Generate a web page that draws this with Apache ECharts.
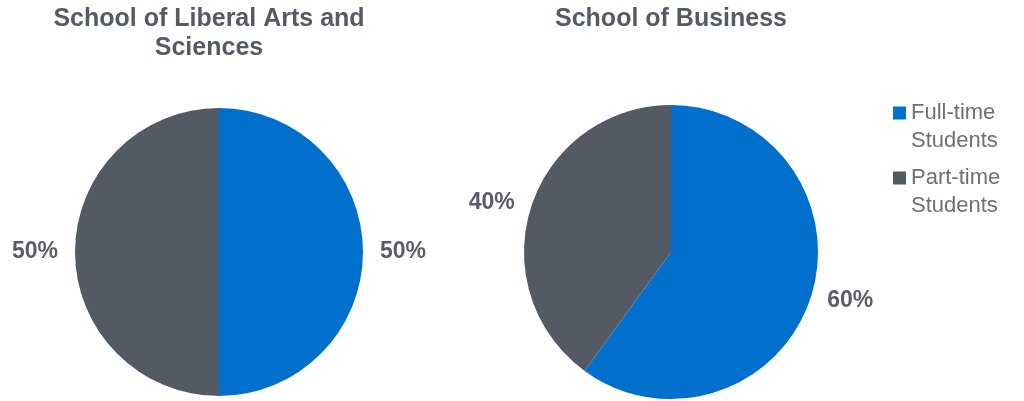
<!DOCTYPE html>
<html><head><meta charset="utf-8">
<script src="https://cdn.jsdelivr.net/npm/echarts@6/dist/echarts.min.js"></script>
<style>html,body{margin:0;padding:0;background:#fff}#c{width:1024px;height:401px}</style>
</head><body><div id="c"></div>
<script>
const categories = ['Full-time Students', 'Part-time Students'];
const schools = ['School of Liberal Arts and\nSciences', 'School of Business'];
const liberalArts = [50, 50];
const business = [60, 40];
const colors = ['#0070CC', '#545A63'];

const chart = echarts.init(document.getElementById('c'));
const FONT = 'Liberation Sans, Arial, sans-serif';
function pieSeries(name, vals, center, r) {
  return {
    type: 'pie', name: name, center: center, radius: r, startAngle: 90, clockwise: true,
    silent: true,
    data: categories.map((c, i) => ({ name: c, value: vals[i] })),
    label: { show: true, position: 'outside', formatter: '{d}%', fontFamily: FONT, fontWeight: 'bold', fontSize: 23, color: '#595E66' },
    labelLine: { show: false, length: 12, length2: 0 },
    itemStyle: { borderWidth: 0 }
  };
}
chart.setOption({
  animation: false,
  color: colors,
  title: [
    { text: schools[0], left: 204, top: 0, textAlign: 'center', textStyle: { fontFamily: FONT, fontWeight: 'bold', fontSize: 25, color: '#555B63', lineHeight: 29 } },
    { text: schools[1], left: 666, top: 0, textAlign: 'center', textStyle: { fontFamily: FONT, fontWeight: 'bold', fontSize: 25, color: '#555B63', lineHeight: 29 } }
  ],
  legend: {
    orient: 'vertical', left: 888, top: 94, itemWidth: 13, itemHeight: 41, itemGap: 9,
    icon: 'path://M0,0L13,0L13,13L0,13ZM0,41L0.01,41',
    data: categories,
    formatter: n => n.replace(' ', '\n'),
    textStyle: { fontFamily: FONT, fontSize: 22, color: '#6B7079', lineHeight: 28 }
  },
  series: [
    pieSeries(schools[0], liberalArts, [219, 252], 144),
    pieSeries(schools[1], business, [671, 252], 147)
  ]
});
</script></body></html>
